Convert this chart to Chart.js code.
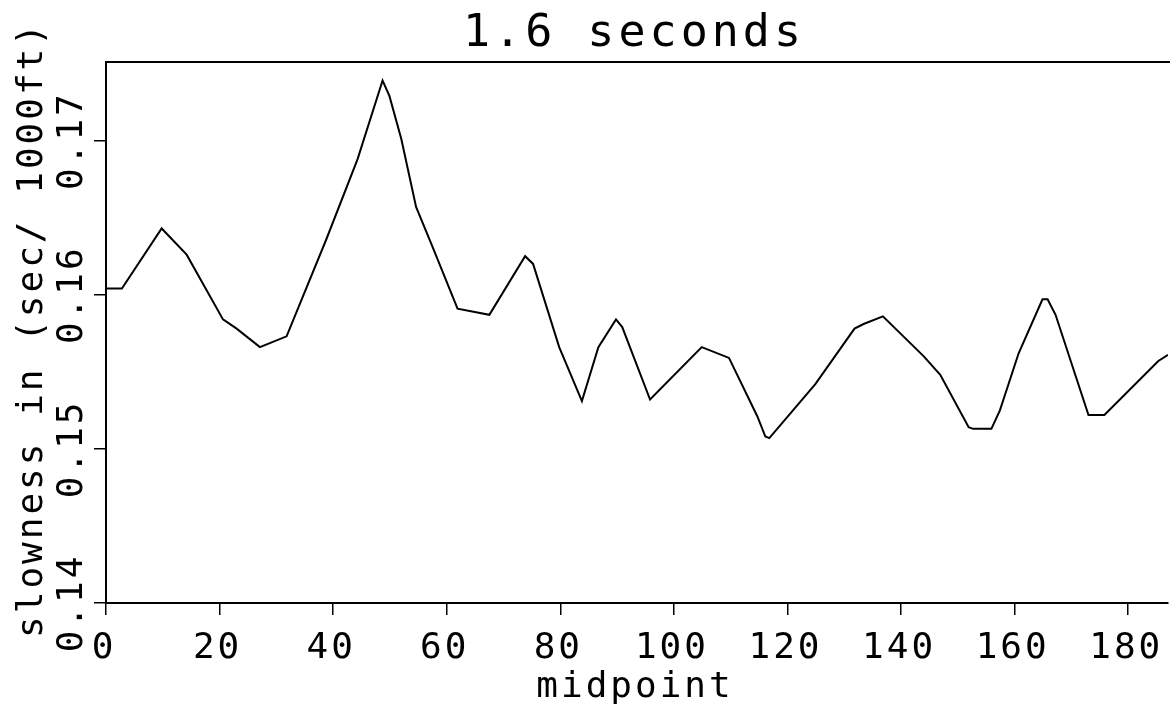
<!DOCTYPE html>
<html>
<head>
<meta charset="utf-8">
<title>1.6 seconds</title>
<script src="https://cdn.jsdelivr.net/npm/chart.js@4.4.1/dist/chart.umd.min.js"></script>
<style>
  html, body { margin: 0; padding: 0; background: #fff; }
  #wrap { width: 1170px; height: 706px; }
</style>
</head>
<body>
<div id="wrap"><canvas id="slownessChart"></canvas></div>
<script>
// textos do gráfico
const chartTitle = '1.6 seconds';
const xTitle = 'midpoint';
const yTitle = 'slowness in (sec/ 1000ft)';

// marcas dos eixos
const xTickValues = [0, 20, 40, 60, 80, 100, 120, 140, 160, 180];
const xTickLabels = ['0', '20', '40', '60', '80', '100', '120', '140', '160', '180'];
const yTickValues = [0.14, 0.15, 0.16, 0.17];
const yTickLabels = ['0.14', '0.15', '0.16', '0.17'];

// pontos
const midpoints = [0, 2.8, 9.8, 14.2, 20.6, 23.0, 27.1, 31.8, 38.8, 44.3, 48.7, 49.9, 52.0, 54.6,
    57.5, 61.9, 67.5, 73.8, 75.2, 79.8, 83.8, 86.7, 89.8, 90.9, 95.8, 104.9, 109.7, 114.7,
    116.1, 116.8, 124.9, 131.8, 133.4, 136.8, 144.0, 146.9, 151.9, 152.7, 155.9, 157.4,
    160.7, 164.9, 165.8, 167.2, 173.0, 175.8, 185.3, 187];
const slowness = [0.1604, 0.1604, 0.1643, 0.1626, 0.1584, 0.1578, 0.1566, 0.1573, 0.1636, 0.1688,
    0.1739, 0.1729, 0.1701, 0.1657, 0.1631, 0.1591, 0.1587, 0.1625, 0.1620, 0.1566, 0.1531,
    0.1566, 0.1584, 0.1579, 0.1532, 0.1566, 0.1559, 0.1521, 0.1508, 0.1507, 0.1542, 0.1578,
    0.1581, 0.1586, 0.1560, 0.1548, 0.1514, 0.1513, 0.1513, 0.1525, 0.1562, 0.1597, 0.1597,
    0.1587, 0.1522, 0.1522, 0.1557, 0.1561];

const pontos = midpoints.map((m, i) => ({ x: m, y: slowness[i] }));

const fonte = '"DejaVu Sans Mono", "Liberation Mono", monospace';

// desenha os textos com espaçamento largo, como no plotter original
const textoPlotter = {
    id: 'textoPlotter',
    afterDraw(chart) {
        const ctx = chart.ctx;
        const area = chart.chartArea;
        const xs = chart.scales.x;
        const ys = chart.scales.y;
        const meioX = (area.left + area.right) / 2;
        const meioY = (area.top + area.bottom) / 2;

        ctx.save();
        ctx.fillStyle = '#000';
        ctx.strokeStyle = '#000';

        // moldura de cima
        ctx.lineWidth = 2;
        ctx.beginPath();
        ctx.moveTo(area.left, area.top);
        ctx.lineTo(chart.width, area.top);
        ctx.stroke();

        ctx.font = '36px ' + fonte;
        ctx.letterSpacing = '3px';
        ctx.textAlign = 'center';
        ctx.textBaseline = 'alphabetic';

        // rótulos do eixo x
        xTickValues.forEach((v, i) => {
            ctx.fillText(xTickLabels[i], xs.getPixelForValue(v) - 2, xs.top + 55);
        });

        // rótulos do eixo y (girados)
        yTickValues.forEach((v, i) => {
            ctx.save();
            ctx.translate(ys.right - 24, ys.getPixelForValue(v));
            ctx.rotate(-Math.PI / 2);
            ctx.fillText(yTickLabels[i], 0, 0);
            ctx.restore();
        });

        // título do eixo y
        ctx.save();
        ctx.translate(ys.left + 42, meioY - 3);
        ctx.rotate(-Math.PI / 2);
        ctx.fillText(yTitle, 0, 0);
        ctx.restore();

        // título do eixo x
        ctx.fillText(xTitle, meioX - 2, xs.top + 94);

        // título principal
        ctx.font = '45px ' + fonte;
        ctx.letterSpacing = '4px';
        ctx.fillText(chartTitle, meioX - 3, area.top - 16);

        ctx.restore();
    }
};

const ctx = document.getElementById('slownessChart').getContext('2d');
const slownessChart = new Chart(ctx, {
    type: 'line',
    data: {
        datasets: [{
            label: yTitle,
            data: pontos,
            borderColor: '#000',
            borderWidth: 2,
            pointRadius: 0,
            tension: 0,
            fill: false
        }]
    },
    options: {
        responsive: true,
        maintainAspectRatio: false,
        animation: false,
        layout: { padding: { top: 62, right: 2, left: 0, bottom: 0 } },
        plugins: {
            legend: { display: false },
            title: { display: false },
            tooltip: { enabled: false }
        },
        scales: {
            x: {
                type: 'linear',
                min: 0,
                max: 187,
                afterBuildTicks: s => { s.ticks = xTickValues.map(v => ({ value: v })); },
                afterFit: s => { s.height = 103; },
                ticks: { display: false },
                grid: { drawOnChartArea: false, drawTicks: true, tickLength: 12, color: '#000', lineWidth: 1.5 },
                border: { display: true, color: '#000', width: 2 }
            },
            y: {
                type: 'linear',
                min: 0.14,
                max: 0.1751,
                afterBuildTicks: s => { s.ticks = yTickValues.map(v => ({ value: v })); },
                afterFit: s => { s.width = 106; },
                ticks: { display: false },
                grid: { drawOnChartArea: false, drawTicks: true, tickLength: 12, color: '#000', lineWidth: 1.5 },
                border: { display: true, color: '#000', width: 2 }
            }
        }
    },
    plugins: [textoPlotter]
});
</script>
</body>
</html>
